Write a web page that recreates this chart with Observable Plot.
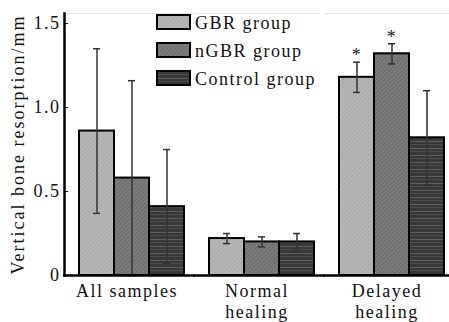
<!DOCTYPE html>
<html><head><meta charset="utf-8">
<script src="https://cdn.jsdelivr.net/npm/d3@7"></script>
<script src="https://cdn.jsdelivr.net/npm/@observablehq/plot@0.6"></script>
<style>
body{margin:0;background:#fff}
#wrap{position:relative;width:449px;height:322px;overflow:hidden;font-family:"Liberation Serif","Times New Roman",serif}
#wrap svg text{letter-spacing:1.5px}
#wrap svg g[aria-label="y-axis label"] text{letter-spacing:2px}
#legend{position:absolute;left:156px;top:14px;width:200px;height:90px}
.sw{position:absolute;left:0;width:35px;height:16px}
.lt{position:absolute;left:39px;font-size:18px;line-height:18px;letter-spacing:1.5px;color:#111;white-space:nowrap}
</style>
</head><body>
<div id="wrap"></div>
<script>
const groups = ["All samples", "Normal\nhealing", "Delayed\nhealing"];
const seriesNames = ["GBR group", "nGBR group", "Control group"];
const gbr = [0.86, 0.22, 1.18];
const gbrErr = [0.49, 0.03, 0.09];
const ngbr = [0.58, 0.20, 1.32];
const ngbrErr = [0.58, 0.03, 0.06];
const control = [0.41, 0.20, 0.82];
const controlErr = [0.34, 0.05, 0.28];
const gbrSig = ["", "", "*"];
const ngbrSig = ["", "", "*"];
const controlSig = ["", "", ""];
const yTicks = [0, 0.5, 1.0, 1.5];
const yTickLabels = ["0", "0.5", "1.0", "1.5"];
const yLabel = "Vertical bone resorption/mm";

const patternIds = ["pGBR", "pNGBR", "pCTRL"];
const cols = [[gbr, gbrErr, gbrSig], [ngbr, ngbrErr, ngbrSig], [control, controlErr, controlSig]];
const data = [];
groups.forEach((g, i) => seriesNames.forEach((s, j) => {
  const [v, e, m] = cols[j];
  data.push({group: g, series: s, value: v[i], lo: v[i] - e[i], hi: v[i] + e[i], sig: m[i]});
}));

const chart = Plot.plot({
  width: 449, height: 322,
  marginLeft: 64, marginRight: 0, marginTop: 13, marginBottom: 47,
  style: {fontFamily: "'Liberation Serif', 'Times New Roman', serif", fontSize: "18px", background: "transparent", color: "#111"},
  fx: {domain: groups, paddingInner: 0.0385, paddingOuter: 0, label: null},
  x: {domain: seriesNames, paddingInner: 0, paddingOuter: 0.269, align: 0.737, axis: null},
  y: {domain: [0, 1.56]},
  color: {domain: seriesNames, range: patternIds.map(d => `url(#${d})`)},
  marks: [
    Plot.frame({anchor: "top", stroke: "#e6e6e6"}),
    Plot.barY(data, {fx: "group", x: "series", y: "value", fill: "series", stroke: "#000", strokeWidth: 2}),
    Plot.ruleX(data, {fx: "group", x: "series", y1: "lo", y2: "hi", stroke: "#333", strokeWidth: 1.5}),
    Plot.tickY(data, {fx: "group", x: "series", y: "lo", stroke: "#333", strokeWidth: 1.5, insetLeft: 14, insetRight: 14}),
    Plot.tickY(data, {fx: "group", x: "series", y: "hi", stroke: "#333", strokeWidth: 1.5, insetLeft: 14, insetRight: 14}),
    Plot.text(data, {fx: "group", x: "series", y: "hi", text: "sig", lineAnchor: "bottom", dy: -1, fontSize: 18, fill: "#222"}),
    Plot.ruleY([0], {stroke: "#000", strokeWidth: 2.5, insetLeft: -1, insetRight: -6}),
    Plot.frame({anchor: "left", facetAnchor: "left", stroke: "#000", strokeWidth: 2.5}),
    Plot.axisY({ticks: yTicks, tickFormat: d => yTickLabels[yTicks.indexOf(d)], tickSize: -4, tickPadding: 8, stroke: "#000",
      label: yLabel, labelAnchor: "center", labelOffset: 53, labelArrow: "none", fontSize: 18}),
    Plot.axisFx({anchor: "bottom", tickSize: 0, tickPadding: 6, lineHeight: 1.2, label: null, fontSize: 18})
  ]
});

const defs = d3.select(chart).insert("defs", ":first-child");
const p1 = defs.append("pattern").attr("id", "pGBR").attr("patternUnits", "userSpaceOnUse").attr("width", 3).attr("height", 3).attr("patternTransform", "rotate(45)");
p1.append("rect").attr("width", 3).attr("height", 3).attr("fill", "#b7b7b7");
p1.append("rect").attr("width", 1).attr("height", 3).attr("fill", "#a9a9a9");
const p2 = defs.append("pattern").attr("id", "pNGBR").attr("patternUnits", "userSpaceOnUse").attr("width", 3).attr("height", 3).attr("patternTransform", "rotate(45)");
p2.append("rect").attr("width", 3).attr("height", 3).attr("fill", "#7c7c7c");
p2.append("rect").attr("width", 1).attr("height", 3).attr("fill", "#6a6a6a");
const p3 = defs.append("pattern").attr("id", "pCTRL").attr("patternUnits", "userSpaceOnUse").attr("width", 6).attr("height", 7);
p3.append("rect").attr("width", 6).attr("height", 7).attr("fill", "#383838");
p3.append("rect").attr("y", 1).attr("width", 6).attr("height", 1).attr("fill", "#5e5e5e");
p3.append("rect").attr("y", 4).attr("width", 6).attr("height", 1).attr("fill", "#4c4c4c");

const wrap = document.getElementById("wrap");
wrap.appendChild(chart);

const legend = document.createElement("div");
legend.id = "legend";
seriesNames.forEach((s, i) => {
  const sw = document.createElementNS("http://www.w3.org/2000/svg", "svg");
  sw.setAttribute("class", "sw");
  sw.setAttribute("width", 35); sw.setAttribute("height", 16);
  sw.style.top = (28 * i) + "px";
  d3.select(sw).append("rect").attr("x", 1).attr("y", 1).attr("width", 33).attr("height", 14)
    .attr("fill", `url(#${patternIds[i]})`).attr("stroke", "#000").attr("stroke-width", 2);
  legend.appendChild(sw);
  const t = document.createElement("div");
  t.className = "lt";
  t.style.top = (28 * i) + "px";
  t.textContent = s;
  legend.appendChild(t);
});
wrap.appendChild(legend);
</script>
</body></html>
